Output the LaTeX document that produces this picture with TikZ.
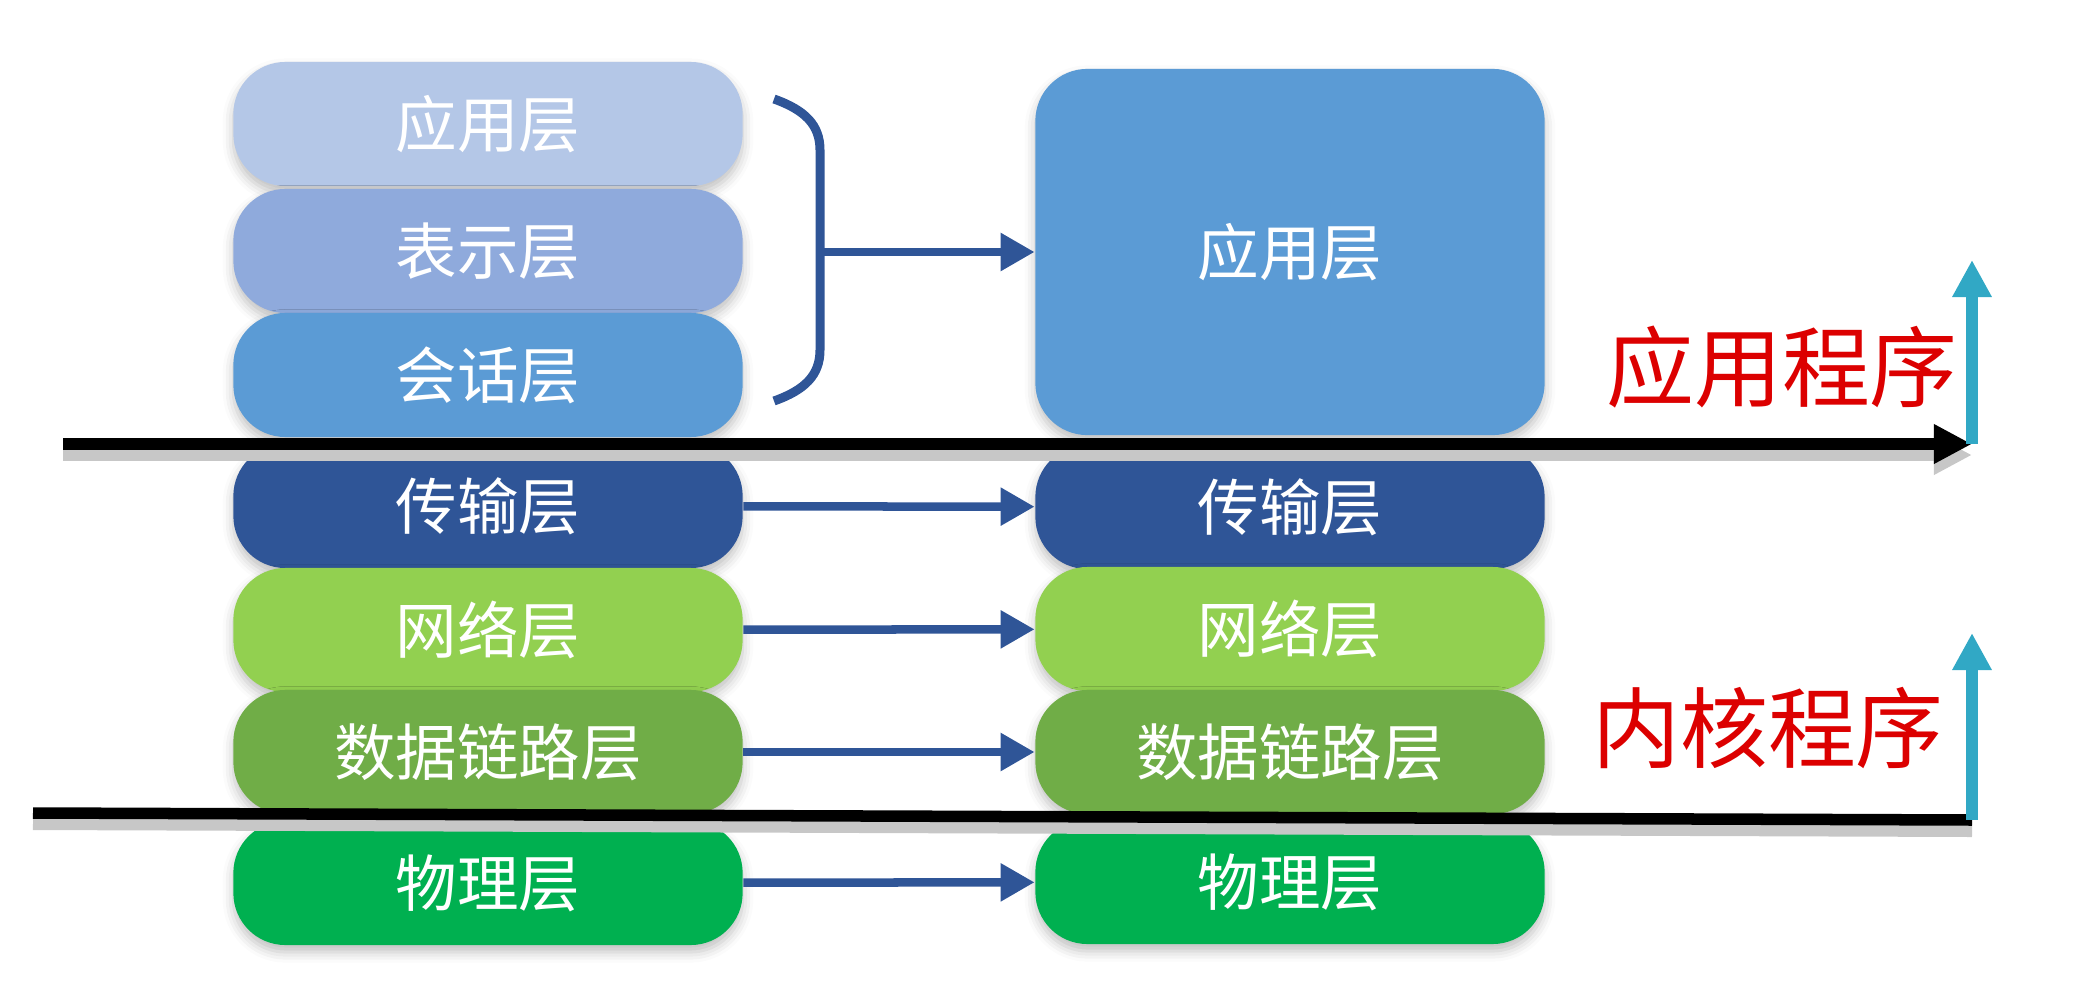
\documentclass[tikz,border=0pt]{standalone}
\usepackage{fontspec}
\usepackage{tikz}
\usetikzlibrary{shadows}
\usetikzlibrary{shadows.blur}
\usetikzlibrary{arrows.meta}
\newfontfamily\cjk{Noto Sans CJK SC}
\definecolor{appbg}{HTML}{b4c7e7}
\definecolor{presbg}{HTML}{8faadc}
\definecolor{sessbg}{HTML}{5b9bd5}
\definecolor{transbg}{HTML}{2f5597}
\definecolor{netbg}{HTML}{92d050}
\definecolor{linkbg}{HTML}{70ad47}
\definecolor{physbg}{HTML}{00b050}
\definecolor{connblue}{HTML}{2f5597}
\definecolor{upcyan}{HTML}{31a8c5}
\definecolor{labelred}{HTML}{dc0000}

\begin{document}
\begin{tikzpicture}[x=0.01cm, y=-0.01cm,
every node/.style = {inner sep=0pt},
layer/.style = {shape=rectangle, rounded corners=0.52cm, text=white,
  minimum width=5.09cm, minimum height=1.24cm,
  font=\cjk\fontsize{17.5}{20}\selectfont,
  blur shadow={shadow xshift=0pt, shadow yshift=-2pt, shadow opacity=25, shadow blur radius=3pt}},
conn/.style = {draw=connblue, line width=0.085cm, -{Triangle[length=0.34cm, width=0.36cm]}},
border/.style = {draw=black, line width=0.115cm,
  preaction={draw=black!22, line width=0.12cm, transform canvas={yshift=-0.11cm}}},
up/.style = {draw=upcyan, line width=0.12cm, -{Triangle[length=0.37cm, width=0.37cm]}},
tag/.style = {text=labelred, font=\cjk\fontsize{25}{30}\selectfont}
]
\useasboundingbox (0,0) rectangle (2078,1003);

% left stack
\node[layer, fill=appbg] (app) at (488,124) {应用层};
\node[layer, fill=presbg] (pres) at (488,251) {表示层};
\node[layer, fill=sessbg] (sess) at (488,375) {会话层};
\node[layer, fill=transbg] (trans) at (488,506) {传输层};
\node[layer, fill=netbg] (net) at (488,630) {网络层};
\node[layer, fill=linkbg] (link) at (488,752) {数据链路层};
\node[layer, fill=physbg] (phys) at (488,883) {物理层};

% right stack
\node[layer, fill=sessbg, minimum height=3.66cm] (app2) at (1290,252) {应用层};
\node[layer, fill=transbg] (trans2) at (1290,507) {传输层};
\node[layer, fill=netbg] (net2) at (1290,629) {网络层};
\node[layer, fill=linkbg] (link2) at (1290,752) {数据链路层};
\node[layer, fill=physbg] (phys2) at (1290,882) {物理层};

% brace over the upper three
\coordinate (brace) at (820,252);
\draw[draw=connblue, line width=0.09cm] (774,99) .. controls (805,110) and (820,125) .. (820,150)
  -- (820,350) .. controls (820,375) and (805,390) .. (774,401);
\draw[conn] (brace) -- (app2.west);

\draw[conn] (trans) -- (trans2);
\draw[conn] (net) -- (net2);
\draw[conn] (link) -- (link2);
\draw[conn] (phys) -- (phys2);

% user / kernel borders
\coordinate (top left) at (63,444);
\coordinate (top right) at (1972,444);
\coordinate (low left) at (33,813);
\coordinate (low right) at (1972,820);
\draw[border, -{Triangle[length=0.38cm, width=0.37cm]}] (top left) -- (top right);
\draw[border] (low left) -- (low right);

\coordinate (app top) at (1972,260);
\coordinate (kern top) at (1972,633);
\draw[up] (top right) -- (app top);
\draw[up] (low right) -- (kern top);

\node[tag] (apptag) at (1782,367) {应用程序};
\node[tag] (kerntag) at (1768,728) {内核程序};

\end{tikzpicture}
\end{document}
